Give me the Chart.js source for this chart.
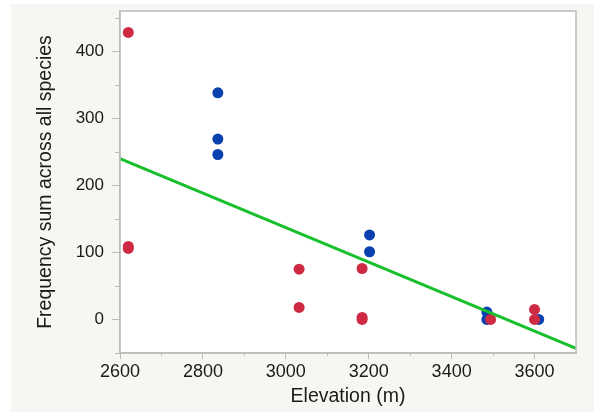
<!DOCTYPE html>
<html>
<head>
<meta charset="utf-8">
<script src="https://cdn.jsdelivr.net/npm/chart.js@4/dist/chart.umd.min.js"></script>
<style>
  html, body { margin: 0; padding: 0; background: #ffffff; }
  #wrap { width: 594px; height: 412px; }
</style>
</head>
<body>
<div id="wrap"><canvas id="chart" width="594" height="412"></canvas></div>
<script>
// elevation (m) and frequency sums
const redElev = [2620, 2620, 2620, 3032, 3032, 3184, 3184, 3184, 3494, 3600, 3600];
const redFreq = [428, 109, 106, 75, 18, 76, 3, 0, 0, 15, 0];
const blueElev = [2836, 2836, 2836, 3202, 3202, 3485, 3485, 3610];
const blueFreq = [338, 269, 246, 126, 101, 11, 0, 0];
// fitted line end points
const fitElev = [2600, 3700];
const fitFreq = [240, -43];

const xTicks = [2600, 2800, 3000, 3200, 3400, 3600];
const yTicks = [0, 100, 200, 300, 400];

const toPoints = (xs, ys) => xs.map((x, i) => ({ x: x, y: ys[i] }));

const FONT = "'Liberation Sans', Arial, Helvetica, sans-serif";
const AXIS = '#bcbcbc';

// beige panel + white plot area + plot frame + minor ticks
const framePlugin = {
    id: 'frame',
    beforeDraw(chart) {
        const ctx = chart.ctx;
        const a = chart.chartArea;
        ctx.save();
        ctx.fillStyle = '#f7f6f2';
        ctx.fillRect(11, 4, chart.width - 11, chart.height - 4);
        ctx.fillStyle = '#ffffff';
        ctx.fillRect(a.left, a.top, a.right - a.left, a.bottom - a.top);
        ctx.restore();
    },
    afterDraw(chart) {
        const ctx = chart.ctx;
        const a = chart.chartArea;
        const xs = chart.scales.x;
        const ys = chart.scales.y;
        ctx.save();
        ctx.strokeStyle = AXIS;
        ctx.lineWidth = 1.5;
        ctx.strokeRect(a.left, a.top, a.right - a.left, a.bottom - a.top);
        ctx.lineWidth = 1;
        ctx.beginPath();
        for (let v = 2700; v < 3700; v += 200) {
            const px = Math.round(xs.getPixelForValue(v)) + 0.5;
            ctx.moveTo(px, a.bottom);
            ctx.lineTo(px, a.bottom + 3);
        }
        for (let v = -50; v <= 450; v += 100) {
            const py = Math.round(ys.getPixelForValue(v)) + 0.5;
            ctx.moveTo(a.left, py);
            ctx.lineTo(a.left - 5, py);
        }
        ctx.stroke();
        ctx.restore();
    }
};

new Chart(document.getElementById('chart'), {
    type: 'scatter',
    data: {
        datasets: [
            {
                type: 'line',
                data: toPoints(fitElev, fitFreq),
                borderColor: '#19bf2c',
                borderWidth: 3,
                pointRadius: 0,
                fill: false,
                order: 0
            },
            {
                data: toPoints(redElev, redFreq),
                backgroundColor: '#cf2a43',
                borderWidth: 0,
                pointRadius: 5.5,
                order: 1
            },
            {
                data: toPoints(blueElev, blueFreq),
                backgroundColor: '#0a40b0',
                borderWidth: 0,
                pointRadius: 5.5,
                order: 2
            }
        ]
    },
    options: {
        responsive: false,
        animation: false,
        layout: { padding: { top: 11, right: 18, left: 0, bottom: 0 } },
        plugins: {
            legend: { display: false },
            tooltip: { enabled: false }
        },
        scales: {
            x: {
                type: 'linear',
                min: 2600,
                max: 3700,
                afterBuildTicks: (s) => { s.ticks = xTicks.map(v => ({ value: v })); },
                afterFit: (s) => { s.height = 59; s.paddingLeft = 0; s.paddingRight = 0; },
                border: { color: AXIS, width: 1.5 },
                grid: { drawOnChartArea: false, tickLength: 6, tickColor: AXIS },
                ticks: {
                    color: '#1a1a1a',
                    font: { family: FONT, size: 18 },
                    padding: 2,
                    maxRotation: 0,
                    callback: (v) => String(v)
                },
                title: {
                    display: true,
                    text: 'Elevation (m)',
                    color: '#1a1a1a',
                    font: { family: FONT, size: 19.5 },
                    padding: { top: 0, bottom: 4 }
                }
            },
            y: {
                type: 'linear',
                min: -50,
                max: 460,
                afterBuildTicks: (s) => { s.ticks = yTicks.map(v => ({ value: v })); },
                afterFit: (s) => { s.width = 120; s.paddingTop = 0; s.paddingBottom = 0; },
                border: { color: AXIS, width: 1.5 },
                grid: { drawOnChartArea: false, tickLength: 8, tickColor: AXIS },
                ticks: {
                    color: '#1a1a1a',
                    font: { family: FONT, size: 17 },
                    padding: 8,
                    callback: (v) => String(v)
                },
                title: {
                    display: true,
                    text: 'Frequency sum across all species',
                    color: '#1a1a1a',
                    font: { family: FONT, size: 19.5 },
                    padding: { top: 34, bottom: 0 }
                }
            }
        }
    },
    plugins: [framePlugin]
});
</script>
</body>
</html>
